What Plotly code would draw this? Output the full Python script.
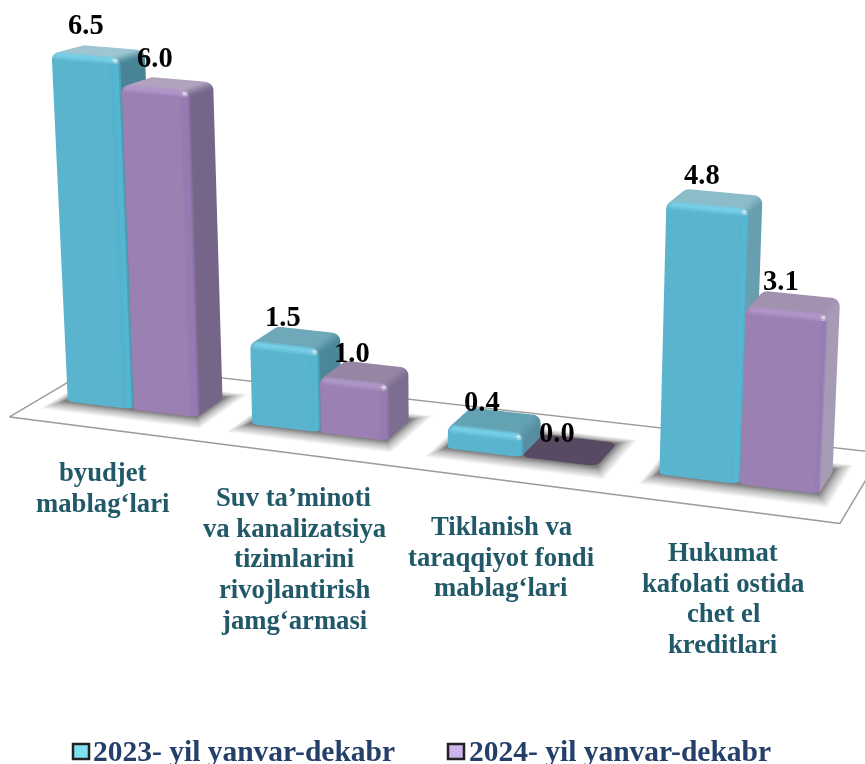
import math
import plotly.graph_objects as go

categories = [["byudjet", "mablag‘lari"],
              ["Suv ta’minoti", "va kanalizatsiya", "tizimlarini", "rivojlantirish", "jamg‘armasi"],
              ["Tiklanish va", "taraqqiyot fondi", "mablag‘lari"],
              ["Hukumat", "kafolati ostida", "chet el", "kreditlari"]]
series_names = ["2023- yil yanvar-dekabr", "2024- yil yanvar-dekabr"]
values_2023 = [6.5, 1.5, 0.4, 4.8]
values_2024 = [6.0, 1.0, 0.0, 3.1]

group_left = [0.0279, 0.2549, 0.4960, 0.7568]
group_right = [0.1905, 0.4240, 0.6825, 0.9553]
Y0, Y1 = 0.36, 0.72

BLUE = dict(front=(90, 180, 206), top_lo=(96, 160, 178), top_hi=(158, 198, 210),
            side_lo=(72, 132, 150), side_hi=(120, 172, 190), rim=(116, 208, 232), rim_r=(84, 184, 212))
PURP = dict(front=(155, 128, 179), top_lo=(146, 128, 160), top_hi=(180, 165, 192),
            side_lo=(116, 100, 136), side_hi=(178, 168, 192), rim=(176, 150, 202), rim_r=(150, 122, 180))
ZERO_TOP = (88, 74, 99)

RNG_X, RNG_Y, RNG_Z = (-0.1, 1.1), (-0.1, 1.2), (-0.1, 7.5)
ZOOM = 2.61
SX, SY, SZ = 0.888 * ZOOM, 0.190 * ZOOM, 0.0587 * ZOOM  # scene units per data unit


def warp(x, y, z):
    """Weak-perspective correction of the orthographic scene."""
    ys = Y0 + (y - Y0) * (1 - 0.07 * z) if z > 0.02 else y
    return (x + y * (0.035 - 0.07 * x) + (x - 0.49) * 0.00655 * z + (y - ys) * 0.079,
            ys * (0.92 + 0.16 * x), z * (0.97 + 0.09 * x))


def mix(a, b, t):
    return tuple(a[i] + (b[i] - a[i]) * t for i in range(3))


def shade(nx, ny, nz, pal, xm, h):
    if h <= 0:
        return "rgb(%d,%d,%d)" % ZERO_TOP
    top = mix(pal["top_lo"], pal["top_hi"], min(h / 6.5, 1))
    side = mix(pal["side_lo"], pal["side_hi"], xm ** 2)
    wf, wr, wt, wl = max(-ny, 0) ** 2, max(nx, 0) ** 2, max(nz, 0) ** 2, max(-nx, 0) ** 2
    wb = max(ny, 0) ** 2
    c = [wf * pal["front"][i] + wr * side[i] + wt * top[i] + wl * pal["front"][i] + wb * top[i]
         for i in range(3)]
    c = mix(c, pal["rim"], min(1, 4 * wf * wt))
    c = mix(c, pal["rim_r"], min(1, 4 * wf * wr))
    s = max(0, (nx - ny + nz) / math.sqrt(3)) ** 24
    c = mix(c, (255, 255, 255), s * 0.85)
    return "rgb(%d,%d,%d)" % tuple(int(v) for v in c)


def bar_mesh(x0, x1, h, pal, name):
    n = 6
    rx, ry = 0.0105, 0.05
    rz = min(0.15, h)
    lift = 0.012 if h <= 0 else 0
    corners = [(x1 - rx, Y0 + ry, -90), (x1 - rx, Y1 - ry, 0), (x0 + rx, Y1 - ry, 90), (x0 + rx, Y0 + ry, 180)]
    rings = [(0.0, 0.0)] + [(h - rz + rz * math.sin(math.radians(90 * j / n)), 90 * j / n) for j in range(n + 1)]
    X, Y, Z, N = [], [], [], []
    for z, e in rings:
        ce, se = math.cos(math.radians(e)), math.sin(math.radians(e))
        for cx, cy, a0 in corners:
            for m in range(n + 1):
                a = math.radians(a0 + 90 * m / n)
                wx, wy, wz = warp(cx + rx * ce * math.cos(a), cy + ry * ce * math.sin(a), z + lift)
                X.append(wx); Y.append(wy); Z.append(wz)
                N.append((ce * math.cos(a), ce * math.sin(a), se))
    P = 4 * (n + 1)
    I, J, K, C = [], [], [], []
    xm = (x0 + x1) / 2
    for r in range(len(rings) - 1):
        for p in range(P):
            q = (p + 1) % P
            a, b, c, d = r * P + p, r * P + q, (r + 1) * P + q, (r + 1) * P + p
            nn = [sum(N[v][i] for v in (a, b, c, d)) for i in range(3)]
            L = math.sqrt(sum(t * t for t in nn)) or 1
            col = shade(nn[0] / L, nn[1] / L, nn[2] / L, pal, xm, h)
            I += [a, a]; J += [b, c]; K += [c, d]; C += [col, col]
    base = (len(rings) - 1) * P
    cap = [base, base + n + 1, base + 2 * (n + 1), base + 3 * (n + 1)]
    topcol = shade(0, 0, 1, pal, xm, h)
    I += [cap[0], cap[0]]; J += [cap[1], cap[2]]; K += [cap[2], cap[3]]; C += [topcol, topcol]
    return go.Mesh3d(x=X, y=Y, z=Z, i=I, j=J, k=K, facecolor=C, name=name, hoverinfo="skip", showscale=False,
                     flatshading=True,
                     lighting=dict(ambient=1, diffuse=0, specular=0, fresnel=0, roughness=1))


def shadow_mesh(x0, x1):
    ex, ey = 0.02, 0.17
    rings = [(0.0, 0.0, "rgb(125,125,125)"), (0.4, 0.4, "rgb(190,190,190)"), (1.0, 1.0, "rgb(255,255,255)")]
    X, Y, Z, C = [], [], [], []
    for fx, fy, col in rings:
        for px, py in [(x0 - ex * fx * 0.6, Y0 - ey * fy), (x1 + ex * fx, Y0 - ey * fy),
                       (x1 + ex * fx, Y1 + ey * fy * 0.5), (x0 - ex * fx * 0.6, Y1 + ey * fy * 0.5)]:
            wx, wy, wz = warp(px, py, 0.004)
            X.append(wx); Y.append(wy); Z.append(wz); C.append(col)
    I, J, K = [0, 0], [1, 2], [2, 3]
    for r in range(2):
        for p in range(4):
            q = (p + 1) % 4
            a, b, c, d = r * 4 + p, r * 4 + q, (r + 1) * 4 + q, (r + 1) * 4 + p
            I += [a, a]; J += [b, c]; K += [c, d]
    return go.Mesh3d(x=X, y=Y, z=Z, i=I, j=J, k=K, vertexcolor=C, hoverinfo="skip", showscale=False,
                     lighting=dict(ambient=1, diffuse=0, specular=0, fresnel=0, roughness=1))


fig = go.Figure()

# floor
fx, fy, fz = zip(*[warp(a, b, 0) for a, b in [(0, 0), (1, 0), (1, 1), (0, 1)]])
fig.add_trace(go.Mesh3d(x=fx, y=fy, z=fz, i=[0, 0], j=[1, 2], k=[2, 3], color="white", hoverinfo="skip",
                        lighting=dict(ambient=1, diffuse=0, specular=0, fresnel=0, roughness=1)))
for g in range(4):
    fig.add_trace(shadow_mesh(group_left[g], group_right[g]))
lx, ly, lz = zip(*[warp(a, b, 0.01) for a, b in [(0, 0), (1, 0), (1, 1), (0, 1), (0, 0)]])
fig.add_trace(go.Scatter3d(x=lx, y=ly, z=lz, mode="lines", line=dict(color="#9a9a9a", width=3), hoverinfo="skip",
                           showlegend=False))

annos3d = []
for g in range(4):
    mid = (group_left[g] + group_right[g]) / 2
    for xa, xb, v, pal, nm in [(group_left[g], mid, values_2023[g], BLUE, series_names[0]),
                               (mid, group_right[g], values_2024[g], PURP, series_names[1])]:
        fig.add_trace(bar_mesh(xa, xb, v, pal, nm))
        wx, wy, wz = warp((xa + xb) / 2, (Y0 + Y1) / 2, v)
        annos3d.append(dict(x=wx, y=wy, z=wz, text="<b>%.1f</b>" % v, showarrow=False, yshift=18 + 1.2 * v,
                            xshift=-12.5,
                            font=dict(family="Liberation Serif", size=28.5, color="black")))

# page annotations
label_pos = [(103, 472), (294, 497), (501, 526), (723, 552)]
LINE_H = 30.7
annos = []
for lines, (px, py) in zip(categories, label_pos):
    for n_line, txt in enumerate(lines):
        annos.append(dict(x=px, y=py + n_line * LINE_H, xref="x", yref="y", text="<b>%s</b>" % txt, showarrow=False,
                          font=dict(family="Liberation Serif", size=26.7, color="#215968")))
shapes = []
for nm, sx, tx, col in [(series_names[0], 73, 91, "#7fe0f0"), (series_names[1], 448, 467, "#cdb4ec")]:
    annos.append(dict(x=tx, y=751, xref="x", yref="y", xanchor="left", text="<b>%s</b>" % nm, showarrow=False,
                      font=dict(family="Liberation Serif", size=29.5, color="#24406a")))
    shapes.append(dict(type="rect", xref="x", yref="y", x0=sx, x1=sx + 16, y0=744, y1=759, fillcolor=col,
                       line=dict(color="#222222", width=2.5)))

# camera
th, ph = math.radians(20.3), math.radians(20.3)
d = (math.sin(th) * math.cos(ph), -math.cos(th) * math.cos(ph), math.sin(ph))
ctr = ((0.408 - sum(RNG_X) / 2) * SX, (1.281 - sum(RNG_Y) / 2) * SY, (0 - sum(RNG_Z) / 2) * SZ)
D = 4.0
eye = tuple(ctr[i] + D * d[i] for i in range(3))
axis = dict(visible=False, showgrid=False, zeroline=False, showspikes=False)

fig.update_layout(
    width=865, height=764, margin=dict(l=0, r=0, t=0, b=0), paper_bgcolor="white", plot_bgcolor="rgba(0,0,0,0)",
    showlegend=False,
    xaxis=dict(range=[0, 865], visible=False, fixedrange=True),
    yaxis=dict(range=[764, 0], visible=False, fixedrange=True),
    annotations=annos, shapes=shapes,
    scene=dict(
        domain=dict(x=[0, 1], y=[0, 1]),
        xaxis=dict(range=RNG_X, **axis), yaxis=dict(range=RNG_Y, **axis), zaxis=dict(range=RNG_Z, **axis),
        aspectmode="manual",
        aspectratio=dict(x=(RNG_X[1] - RNG_X[0]) * SX, y=(RNG_Y[1] - RNG_Y[0]) * SY, z=(RNG_Z[1] - RNG_Z[0]) * SZ),
        camera=dict(projection=dict(type="orthographic"), up=dict(x=0, y=0, z=1),
                    center=dict(x=ctr[0], y=ctr[1], z=ctr[2]), eye=dict(x=eye[0], y=eye[1], z=eye[2])),
        annotations=annos3d,
    ),
)
fig.write_html("out.html", config=dict(displayModeBar=False),
               post_script="document.body.style.margin='0';document.documentElement.style.overflow='hidden';")
